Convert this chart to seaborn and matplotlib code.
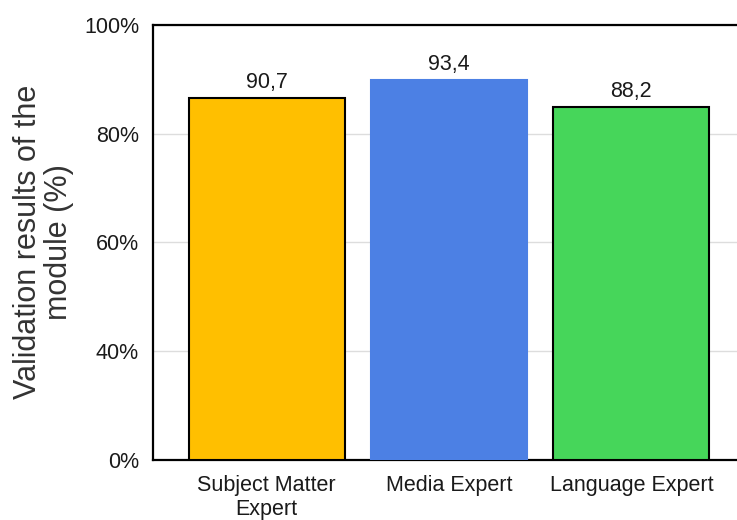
import numpy as np
import pandas as pd
import matplotlib
matplotlib.use("Agg")
import matplotlib.pyplot as plt
import seaborn as sns

# data
categories = ["Subject Matter\nExpert", "Media Expert", "Language Expert"]
bar_heights = [86.5, 89.8, 84.8]          # where the bar tops sit on the axis
bar_labels = ["90,7", "93,4", "88,2"]     # printed value labels
colors = ["#FFBF00", "#4C80E4", "#46D65A"]
edges = ["black", "#4C80E4", "black"]
ytick_vals = [0, 40, 60, 80, 100]
ytick_text = ["0%", "40%", "60%", "80%", "100%"]

df = pd.DataFrame({"group": categories, "value": bar_heights})

sns.set_style("white")
plt.rcParams["font.family"] = ["Liberation Sans", "DejaVu Sans"]


# the axis puts 0-40 in the same space as each 20 step above it
def fwd(y):
    y = np.asarray(y, dtype=float)
    return np.where(y < 40, y * 25 / 40, 25 + (y - 40) * 75 / 60)


def inv(v):
    v = np.asarray(v, dtype=float)
    return np.where(v < 25, v * 40 / 25, 40 + (v - 25) * 60 / 75)


fig = plt.figure(figsize=(7.37, 5.2), dpi=100)
ax = fig.add_axes([0.2076, 0.1154, 0.80, 0.837])

sns.barplot(data=df, x="group", y="value", hue="group", palette=colors,
            legend=False, width=0.855, saturation=1, ax=ax, zorder=3)

for cont, ec in zip(ax.containers, edges):
    for p in cont:
        p.set_edgecolor(ec)
        p.set_linewidth(1.5)

for cont, lab in zip(ax.containers, [[l] for l in bar_labels]):
    ax.bar_label(cont, labels=lab, padding=4, fontsize=15.5, color="#1a1a1a")

ax.set_yscale("function", functions=(fwd, inv))
ax.set_ylim(0, 100)
ax.set_yticks(ytick_vals)
ax.set_yticklabels(ytick_text)
ax.set_xlim(-0.624, 2.61)

ax.yaxis.grid(True, color="#DDDDDD", linewidth=1, zorder=0)
ax.set_axisbelow(True)

for s in ["left", "top", "bottom"]:
    ax.spines[s].set_color("black")
    ax.spines[s].set_linewidth(1.6)
ax.spines["right"].set_visible(False)

ax.tick_params(axis="y", length=0, pad=10, labelsize=15.5, labelcolor="#1a1a1a")
ax.tick_params(axis="x", length=0, pad=11, labelsize=15.5, labelcolor="#1a1a1a")
ax.set_xlabel("")
ax.set_ylabel("Validation results of the\nmodule (%)", fontsize=22,
              color="#333333", labelpad=7, linespacing=1.05)

fig.savefig("out.png", dpi=100)
